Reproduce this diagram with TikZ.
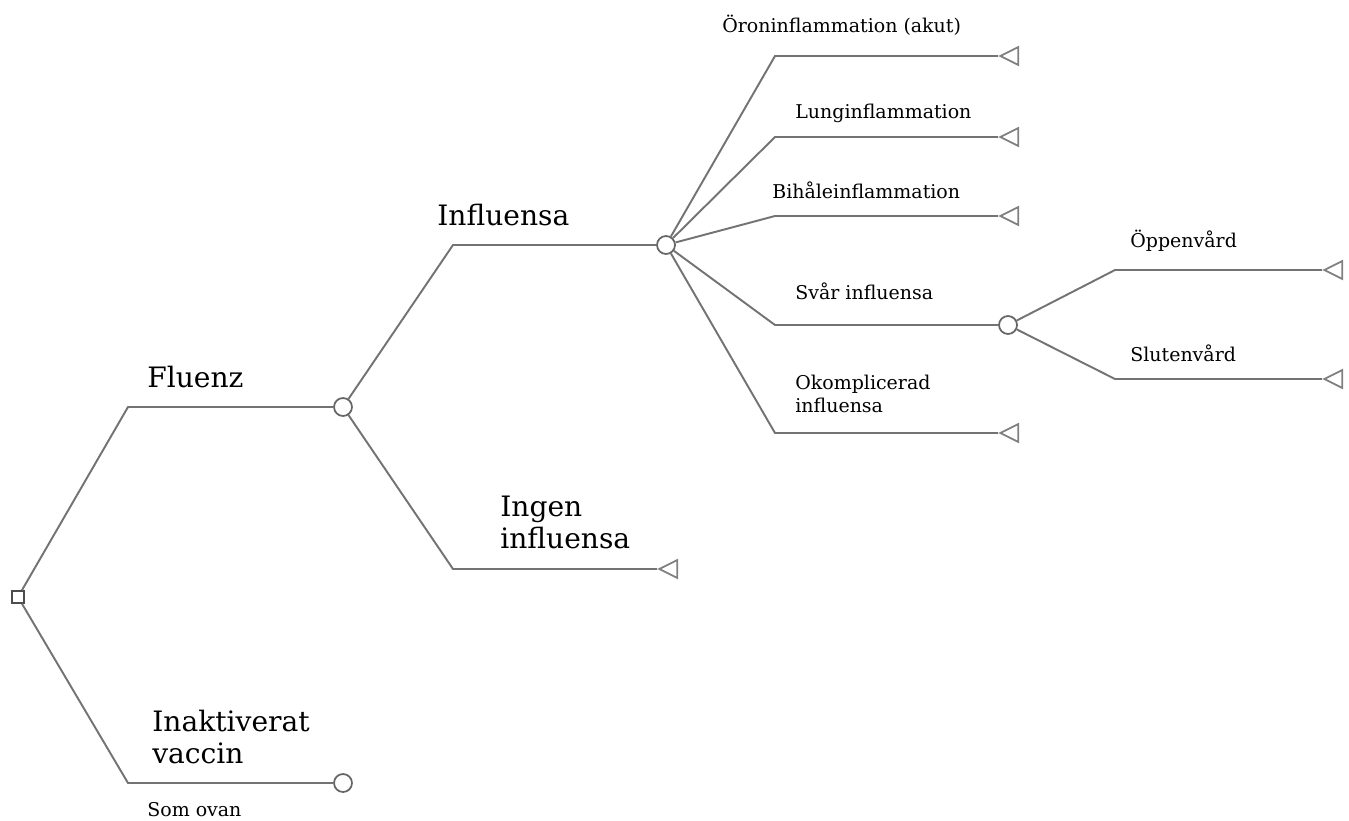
\documentclass[tikz,border=0pt]{standalone}
\usepackage{fontspec}
\setmainfont{DejaVu Serif}
\usetikzlibrary{shapes.geometric}
\begin{document}
\begin{tikzpicture}[x=0.02cm, y=-0.02cm,
    branch/.style = {draw=black!55, line width=1.1pt},
    decision/.style = {draw=black!70, line width=1pt, rectangle, minimum size=0.24cm, inner sep=0pt},
    chance/.style = {draw=black!60, line width=1pt, circle, minimum size=0.36cm, inner sep=0pt, fill=white},
    terminal/.style = {draw=black!50, line width=1pt, isosceles triangle, isosceles triangle stretches,
        shape border rotate=180, minimum width=0.36cm, minimum height=0.36cm, inner sep=0pt, anchor=apex},
    big/.style = {anchor=base west, inner sep=0pt, font=\fontsize{16}{18.2}\selectfont, align=left},
    small/.style = {anchor=base west, inner sep=0pt, font=\fontsize{10.8}{13}\selectfont, align=left}]
    \useasboundingbox (0,0) rectangle (1349,821);
    % knutar
    \node[decision] (beslut) at (18,597) {};
    \node[chance] (fluenz) at (343,407) {};
    \node[chance] (inakt) at (343,783) {};
    \node[chance] (influensa) at (666,245) {};
    \node[terminal] (ingen) at (657,569) {};
    \node[terminal] (oron) at (998,56) {};
    \node[terminal] (lung) at (998,137) {};
    \node[terminal] (bihale) at (998,216) {};
    \node[chance] (svar) at (1008,325) {};
    \node[terminal] (okompl) at (998,433) {};
    \node[terminal] (oppen) at (1322,270) {};
    \node[terminal] (sluten) at (1322,379) {};
    % hörn
    \coordinate (kFluenz) at (128,407);
    \coordinate (kInakt) at (128,783);
    \coordinate (kInfl) at (453,245);
    \coordinate (kIngen) at (453,569);
    \coordinate (kOron) at (775,56);
    \coordinate (kLung) at (775,137);
    \coordinate (kBihale) at (775,216);
    \coordinate (kSvar) at (775,325);
    \coordinate (kOkompl) at (775,433);
    \coordinate (kOppen) at (1115,270);
    \coordinate (kSluten) at (1115,379);
    % grenar
    \draw[branch] (beslut) -- (kFluenz) -- (fluenz);
    \draw[branch] (beslut) -- (kInakt) -- (inakt);
    \draw[branch] (fluenz) -- (kInfl) -- (influensa);
    \draw[branch] (fluenz) -- (kIngen) -- (ingen.apex);
    \draw[branch] (influensa) -- (kOron) -- (oron.apex);
    \draw[branch] (influensa) -- (kLung) -- (lung.apex);
    \draw[branch] (influensa) -- (kBihale) -- (bihale.apex);
    \draw[branch] (influensa) -- (kSvar) -- (svar);
    \draw[branch] (influensa) -- (kOkompl) -- (okompl.apex);
    \draw[branch] (svar) -- (kOppen) -- (oppen.apex);
    \draw[branch] (svar) -- (kSluten) -- (sluten.apex);
    % texter
    \node[big] (tFluenz) at (147,387) {Fluenz};
    \node[big] (tInakt) at (152,763) {Inaktiverat\\vaccin};
    \node[small] (tSom) at (147,816) {Som ovan};
    \node[big] (tInfl) at (437,225) {Influensa};
    \node[big] (tIngen) at (500,548) {Ingen\\influensa};
    \node[small] (tOron) at (722,33) {Öroninflammation (akut)};
    \node[small] (tLung) at (795,118) {Lunginflammation};
    \node[small] (tBihale) at (772,198) {Bihåleinflammation};
    \node[small] (tSvar) at (795,299) {Svår influensa};
    \node[small] (tOkompl) at (795,412) {Okomplicerad\\influensa};
    \node[small] (tOppen) at (1130,247) {Öppenvård};
    \node[small] (tSluten) at (1130,361) {Slutenvård};
\end{tikzpicture}
\end{document}
